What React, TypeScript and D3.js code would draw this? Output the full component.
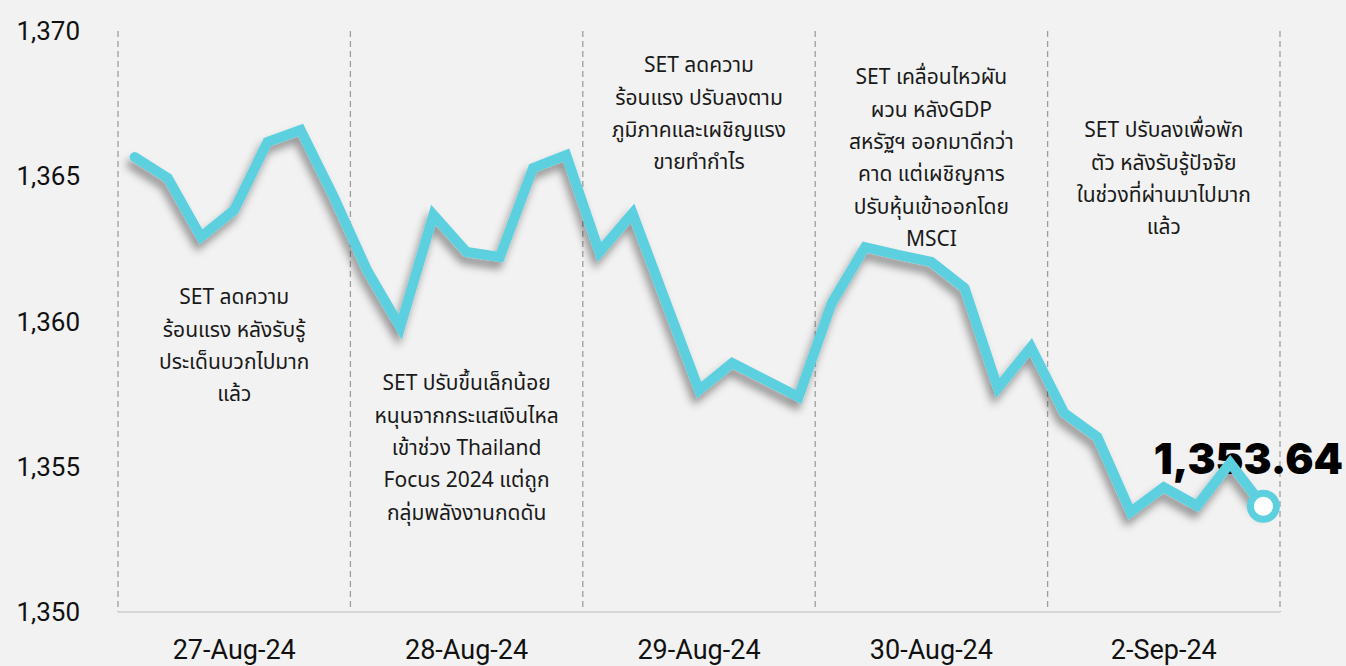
import React from "react";
import * as d3 from "d3";

const days = ["27-Aug-24", "28-Aug-24", "29-Aug-24", "30-Aug-24", "2-Sep-24"];

// SET index, 7 readings per trading day
const setIndex = [
  1365.66, 1364.94, 1362.91, 1363.84, 1366.18, 1366.59, 1364.29,
  1361.77, 1359.81, 1363.67, 1362.39, 1362.22, 1365.28, 1365.73,
  1362.39, 1363.73, 1360.67, 1357.64, 1358.57, 1357.99, 1357.4,
  1360.64, 1362.56, 1362.29, 1362.05, 1361.15, 1357.71, 1359.12,
  1356.85, 1356.02, 1353.44, 1354.3, 1353.66, 1355.13, 1353.64,
];

const yTicks = [1350, 1355, 1360, 1365, 1370];

const notes = [
  ["SET ลดความ", "ร้อนแรง หลังรับรู้", "ประเด็นบวกไปมาก", "แล้ว"],
  ["SET ปรับขึ้นเล็กน้อย", "หนุนจากกระแสเงินไหล", "เข้าช่วง Thailand", "Focus 2024 แต่ถูก", "กลุ่มพลังงานกดดัน"],
  ["SET ลดความ", "ร้อนแรง ปรับลงตาม", "ภูมิภาคและเผชิญแรง", "ขายทำกำไร"],
  ["SET เคลื่อนไหวผัน", "ผวน หลังGDP", "สหรัฐฯ ออกมาดีกว่า", "คาด แต่เผชิญการ", "ปรับหุ้นเข้าออกโดย", "MSCI"],
  ["SET ปรับลงเพื่อพัก", "ตัว หลังรับรู้ปัจจัย", "ในช่วงที่ผ่านมาไปมาก", "แล้ว"],
];
const noteTop = [297, 383, 65, 77, 130];

const W = 1346;
const H = 666;
const left = 118;
const right = 1280;
const top = 31;
const bottom = 612;

const thaiFont = "'Noto Sans Thai', 'Noto Sans', Roboto, sans-serif";

export default function App() {
  const x = d3.scaleLinear().domain([-0.5, setIndex.length - 0.5]).range([left, right]);
  const band = d3.scaleBand<string>().domain(days).range([left, right]);
  const y = d3.scaleLinear().domain([1350, 1370]).range([bottom, top]);

  const path = d3
    .line<number>()
    .x((d, i) => x(i))
    .y((d) => y(d))(setIndex);

  const lastI = setIndex.length - 1;
  const last = setIndex[lastI];
  const bounds = [...days.map((d) => band(d) as number), right];

  return (
    <svg width={W} height={H} style={{ position: "absolute", left: 0, top: 0 }}>
      <defs>
        <filter id="shadow" x="-10%" y="-10%" width="120%" height="130%">
          <feDropShadow dx={-3} dy={7} stdDeviation={4} floodColor="#000" floodOpacity={0.4} />
        </filter>
      </defs>
      <rect width={W} height={H} fill="#f2f2f2" />

      {bounds.map((b, i) => (
        <line key={i} x1={b} x2={b} y1={top} y2={bottom} stroke="#9e9e9e" strokeWidth={1.3} strokeDasharray="6,4" />
      ))}
      <line x1={left} x2={right} y1={bottom} y2={bottom} stroke="#d6d6d6" strokeWidth={2} />

      {yTicks.map((t) => (
        <text key={t} x={80} y={y(t)} dy="0.35em" textAnchor="end" fontFamily="Roboto, sans-serif" fontSize={26} fill="#111">
          {d3.format(",")(t)}
        </text>
      ))}

      {days.map((d) => (
        <text key={d} x={(band(d) as number) + band.bandwidth() / 2} y={659} textAnchor="middle" fontFamily="Roboto, sans-serif" fontSize={27} fill="#111">
          {d}
        </text>
      ))}

      {notes.map((lines, j) => (
        <text key={j} textAnchor="middle" fontFamily={thaiFont} fontSize={21} fill="#1a1a1a">
          {lines.map((l, k) => (
            <tspan key={k} x={(band(days[j]) as number) + band.bandwidth() / 2} y={noteTop[j] + k * 32.3} dy="0.35em">
              {l}
            </tspan>
          ))}
        </text>
      ))}

      <text x={1343} y={474} textAnchor="end" fontFamily="Inter, Roboto, sans-serif" fontWeight={900} fontSize={42} fill="#000">
        {d3.format(",.2f")(last)}
      </text>

      <path d={path || ""} fill="none" stroke="#5dd0e0" strokeWidth={10} strokeLinejoin="miter" strokeLinecap="round" filter="url(#shadow)" />
      <circle cx={x(lastI)} cy={y(last)} r={13} fill="#fff" stroke="#5dd0e0" strokeWidth={7} />
    </svg>
  );
}
